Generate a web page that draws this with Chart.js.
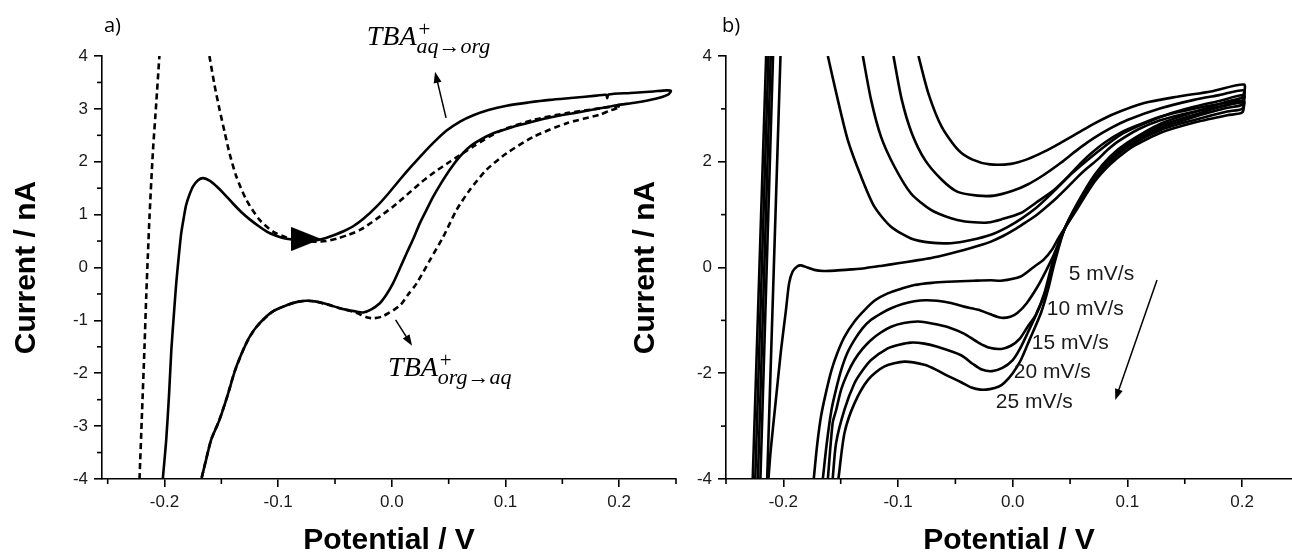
<!DOCTYPE html>
<html><head><meta charset="utf-8">
<script src="https://cdn.jsdelivr.net/npm/chart.js@4.4.1/dist/chart.umd.min.js"></script>
<style>
html,body{margin:0;padding:0;background:#fff;width:1292px;height:554px;overflow:hidden;position:relative}
#wa{position:absolute;left:0;top:0;width:680px;height:560px}
#wb{position:absolute;left:620px;top:0;width:672px;height:560px}
.lab{position:absolute;font-family:"Open Sans",sans-serif;font-size:20px;line-height:20px;color:#000}
</style></head><body>
<div id="wa"><canvas id="ca" width="680" height="560"></canvas></div>
<div id="wb"><canvas id="cb" width="672" height="560"></canvas></div>
<div class="lab" style="left:104px;top:15px">a)</div>
<div class="lab" style="left:722px;top:15px">b)</div>
<script>
// ---------- tick labels ----------
const xMajor = [-0.2, -0.1, 0.0, 0.1, 0.2];
const xMinor = [-0.25, -0.15, -0.05, 0.05, 0.15, 0.25];
const yMajorA = [-4, -3, -2, -1, 0, 1, 2, 3, 4];
const yMinorA = [-3.5, -2.5, -1.5, -0.5, 0.5, 1.5, 2.5, 3.5];
const yMajorB = [-4, -2, 0, 2, 4];
const yMinorB = [-3, -1, 1, 3];

// ---------- panel a data [potential V, current nA] ----------
const aSolid = [[-0.2015,-4],[-0.1985,-3.26],[-0.196,-2.4],[-0.194,-1.56],[-0.1918,-0.9],[-0.1897,-0.30],[-0.1875,0.2],[-0.1853,0.65],[-0.183,0.95],[-0.181,1.18],[-0.178,1.38],[-0.175,1.53],[-0.1705,1.65],[-0.166,1.69],[-0.160,1.64],[-0.1545,1.54],[-0.147,1.38],[-0.140,1.215],[-0.1325,1.05],[-0.125,0.91],[-0.117,0.78],[-0.110,0.68],[-0.103,0.61],[-0.0958,0.56],[-0.088,0.53],[-0.080,0.51],[-0.072,0.505],[-0.065,0.52],[-0.058,0.56],[-0.050,0.62],[-0.042,0.69],[-0.034,0.78],[-0.025,0.92],[-0.0135,1.15],[-0.003,1.40],[0.007,1.66],[0.0175,1.92],[0.0276,2.16],[0.038,2.39],[0.0482,2.59],[0.060,2.76],[0.0717,2.88],[0.085,2.98],[0.101,3.06],[0.120,3.12],[0.139,3.17],[0.160,3.21],[0.180,3.25],[0.1885,3.265],[0.1895,3.20],[0.1905,3.27],[0.210,3.30],[0.230,3.33],[0.2415,3.35],[0.2455,3.34],[0.243,3.27],[0.232,3.19],[0.215,3.12],[0.198,3.07],[0.183,3.01],[0.160,2.92],[0.140,2.84],[0.1245,2.76],[0.105,2.65],[0.0893,2.54],[0.078,2.42],[0.0687,2.29],[0.060,2.10],[0.051,1.85],[0.0435,1.6],[0.0364,1.34],[0.0305,1.09],[0.0247,0.84],[0.019,0.55],[0.013,0.27],[0.007,-0.02],[0.001,-0.30],[-0.005,-0.52],[-0.0106,-0.675],[-0.018,-0.79],[-0.0253,-0.85],[-0.032,-0.83],[-0.0458,-0.77],[-0.056,-0.70],[-0.0663,-0.645],[-0.075,-0.63],[-0.083,-0.65],[-0.092,-0.71],[-0.1046,-0.83],[-0.112,-0.96],[-0.119,-1.12],[-0.124,-1.27],[-0.128,-1.43],[-0.133,-1.67],[-0.138,-1.95],[-0.145,-2.45],[-0.152,-2.9],[-0.159,-3.26],[-0.163,-3.6],[-0.167,-3.95],[-0.1675,-4]];
const aDashLeft = [[-0.222,-4],[-0.2198,-2.75],[-0.2176,-1.5],[-0.2161,-0.55],[-0.2147,0.2],[-0.2132,0.96],[-0.2103,2.16],[-0.2073,3.1],[-0.2045,4]];
const aDash = [[-0.1605,4],[-0.156,3.45],[-0.1515,2.98],[-0.147,2.55],[-0.1427,2.15],[-0.1368,1.72],[-0.128,1.28],[-0.1163,0.90],[-0.1046,0.68],[-0.0928,0.57],[-0.083,0.52],[-0.075,0.50],[-0.066,0.49],[-0.0576,0.50],[-0.048,0.55],[-0.038,0.62],[-0.028,0.71],[-0.014,0.91],[0.001,1.15],[0.013,1.37],[0.0247,1.59],[0.038,1.81],[0.051,2.0],[0.0717,2.29],[0.095,2.58],[0.1245,2.79],[0.154,2.92],[0.183,3.01],[0.198,3.05],[0.201,3.03],[0.192,2.97],[0.183,2.89],[0.154,2.73],[0.1245,2.47],[0.101,2.16],[0.0834,1.85],[0.0687,1.47],[0.057,1.09],[0.0452,0.58],[0.0335,0.14],[0.0218,-0.30],[0.014,-0.52],[0.007,-0.72],[-0.0077,-0.92],[-0.016,-0.96],[-0.0223,-0.94],[-0.032,-0.85],[-0.0458,-0.77],[-0.0663,-0.645],[-0.075,-0.63],[-0.083,-0.65],[-0.092,-0.71],[-0.1046,-0.83],[-0.119,-1.12],[-0.128,-1.43],[-0.138,-1.95],[-0.145,-2.45],[-0.152,-2.9],[-0.159,-3.26],[-0.167,-3.95],[-0.1675,-4]];
const aScanMarker = [[-0.0752, 0.54]];

// ---------- panel b data (scan rates) ----------
const rates = ['5 mV/s','10 mV/s','15 mV/s','20 mV/s','25 mV/s'];
const b5Steep = [[-0.2141,-4],[-0.2025,4]];
const b10Steep = [[-0.2200,-4],[-0.2090,4]];
const b15Steep = [[-0.2222,-4],[-0.2110,4]];
const b20Steep = [[-0.2245,-4],[-0.2130,4]];
const b25Steep = [[-0.2267,-4],[-0.2150,4]];
const b5 = [[-0.213,-4],[-0.211,-3.45],[-0.2065,-2.5],[-0.202,-1.56],[-0.1977,-0.80],[-0.195,-0.30],[-0.192,-0.08],[-0.188,0.02],[-0.1846,0.04],[-0.179,0.0],[-0.173,-0.045],[-0.165,-0.065],[-0.155,-0.06],[-0.14,-0.035],[-0.129,-0.013],[-0.115,0.03],[-0.100,0.08],[-0.085,0.13],[-0.071,0.18],[-0.055,0.26],[-0.0425,0.33],[-0.03,0.41],[-0.019,0.49],[-0.008,0.6],[0.0018,0.72],[0.011,0.85],[0.020,0.98],[0.029,1.14],[0.038,1.31],[0.047,1.50],[0.056,1.70],[0.065,1.88],[0.0744,2.05],[0.083,2.23],[0.0923,2.39],[0.110,2.62],[0.128,2.78],[0.1465,2.89],[0.165,2.98],[0.183,3.05],[0.2009,3.12],
 [0.2,2.93],[0.187,2.88],[0.16,2.75],[0.129,2.55],[0.11,2.35],[0.1,2.22],[0.085,1.95],[0.0713,1.62],[0.0565,1.12],[0.047,0.80],[0.040,0.56],[0.034,0.33],[0.027,0.15],[0.019,0.02],[0.007,-0.17],[-0.0103,-0.25],[-0.019,-0.24],[-0.034,-0.25],[-0.0567,-0.27],[-0.0706,-0.29],[-0.0857,-0.33],[-0.097,-0.40],[-0.109,-0.49],[-0.12,-0.62],[-0.129,-0.80],[-0.138,-1.02],[-0.1467,-1.31],[-0.153,-1.62],[-0.158,-1.94],[-0.163,-2.38],[-0.1672,-2.82],[-0.1705,-3.35],[-0.1735,-4]];
const b10 = [[-0.1612,4],[-0.1525,3.17],[-0.1438,2.41],[-0.1322,1.72],[-0.1206,1.15],[-0.1061,0.77],[-0.0887,0.55],[-0.0713,0.47],[-0.0538,0.46],[-0.0364,0.52],[-0.019,0.62],[-0.005,0.76],[0.008,0.93],[0.02,1.12],[0.032,1.36],[0.044,1.62],[0.056,1.9],[0.068,2.15],[0.08,2.36],[0.095,2.56],[0.11,2.7],[0.13,2.86],[0.16,3.01],[0.183,3.1],[0.2017,3.15],
 [0.2,3.0],[0.187,2.95],[0.16,2.8],[0.129,2.6],[0.1,2.27],[0.085,2.0],[0.0713,1.66],[0.0565,1.15],[0.045,0.72],[0.036,0.25],[0.03,-0.02],[0.0217,-0.36],[0.012,-0.68],[0.004,-0.86],[-0.002,-0.93],[-0.01,-0.95],[-0.02,-0.88],[-0.03,-0.8],[-0.0425,-0.74],[-0.054,-0.67],[-0.0657,-0.63],[-0.076,-0.62],[-0.0857,-0.64],[-0.096,-0.69],[-0.106,-0.77],[-0.115,-0.87],[-0.1235,-0.99],[-0.131,-1.15],[-0.138,-1.37],[-0.1445,-1.63],[-0.1496,-1.94],[-0.154,-2.3],[-0.158,-2.69],[-0.162,-3.3],[-0.1656,-4]];
const b15 = [[-0.1307,4],[-0.1235,3.17],[-0.1148,2.47],[-0.1032,1.91],[-0.0887,1.40],[-0.0713,1.09],[-0.0538,0.93],[-0.0416,0.87],[-0.03,0.85],[-0.0219,0.85],[-0.01,0.91],[0.0071,1.03],[0.02,1.22],[0.0362,1.47],[0.05,1.75],[0.065,2.03],[0.08,2.29],[0.094,2.51],[0.11,2.68],[0.1233,2.8],[0.14,2.93],[0.158,3.04],[0.18,3.15],[0.2017,3.26],
 [0.2,3.08],[0.187,3.02],[0.16,2.86],[0.129,2.64],[0.1,2.3],[0.085,2.04],[0.0713,1.7],[0.0565,1.18],[0.045,0.72],[0.036,0.2],[0.0275,-0.49],[0.02,-0.9],[0.013,-1.12],[0.006,-1.35],[-0.0016,-1.48],[-0.01,-1.54],[-0.02,-1.52],[-0.03,-1.42],[-0.0425,-1.25],[-0.055,-1.14],[-0.0657,-1.08],[-0.075,-1.04],[-0.083,-1.02],[-0.095,-1.05],[-0.106,-1.12],[-0.115,-1.23],[-0.1235,-1.37],[-0.131,-1.54],[-0.138,-1.75],[-0.144,-2.0],[-0.1496,-2.31],[-0.154,-2.7],[-0.157,-2.94],[-0.1612,-4]];
const b20 = [[-0.104,4],[-0.0967,3.17],[-0.088,2.54],[-0.0764,2.03],[-0.0619,1.66],[-0.048,1.43],[-0.0307,1.36],[-0.016,1.36],[0.0,1.45],[0.013,1.57],[0.027,1.75],[0.042,1.98],[0.056,2.22],[0.071,2.45],[0.085,2.63],[0.1,2.79],[0.129,3.01],[0.158,3.17],[0.18,3.26],[0.2017,3.35],
 [0.2,3.15],[0.187,3.08],[0.16,2.9],[0.129,2.68],[0.1,2.33],[0.085,2.07],[0.0713,1.72],[0.0565,1.2],[0.045,0.72],[0.036,0.15],[0.0304,-0.36],[0.022,-0.82],[0.013,-1.24],[0.006,-1.55],[0.0,-1.75],[-0.009,-1.9],[-0.018,-1.96],[-0.027,-1.93],[-0.035,-1.82],[-0.045,-1.66],[-0.0657,-1.50],[-0.077,-1.44],[-0.0887,-1.42],[-0.099,-1.46],[-0.109,-1.53],[-0.1235,-1.75],[-0.131,-1.95],[-0.138,-2.19],[-0.1467,-2.69],[-0.154,-3.32],[-0.157,-4]];
const b25 = [[-0.0822,4],[-0.0735,3.29],[-0.0619,2.66],[-0.0474,2.22],[-0.035,2.04],[-0.0199,1.95],[-0.0016,1.96],[0.013,2.05],[0.0275,2.19],[0.042,2.36],[0.0565,2.54],[0.071,2.72],[0.0855,2.88],[0.1146,3.11],[0.1436,3.23],[0.1727,3.33],[0.2017,3.46],
 [0.2,3.22],[0.187,3.14],[0.16,2.95],[0.129,2.72],[0.1,2.36],[0.085,2.1],[0.0713,1.75],[0.0565,1.22],[0.045,0.72],[0.036,0.05],[0.031,-0.4],[0.0246,-0.86],[0.015,-1.35],[0.0071,-1.75],[0.0,-2.0],[-0.0073,-2.18],[-0.012,-2.25],[-0.02,-2.3],[-0.028,-2.31],[-0.036,-2.27],[-0.045,-2.17],[-0.0567,-2.05],[-0.067,-1.93],[-0.077,-1.84],[-0.0944,-1.78],[-0.1118,-1.87],[-0.126,-2.12],[-0.138,-2.57],[-0.1467,-3.13],[-0.152,-4]];

// ---------- annotations (data coordinates) ----------
const aArrows = [[0.0477, 2.83, 0.038, 3.70], [0.0033, -0.99, 0.0178, -1.48]];
const aLabels = [{x:-0.0221, y:4.21, main:'TBA', sup:'+', sub:'aq\u2192org'}, {x:-0.0033, y:-2.05, main:'TBA', sup:'+', sub:'org\u2192aq'}];
const bArrows = [[0.1258, -0.236, 0.0894, -2.506]];
const bRateLabelPos = [[0.0489,-0.236],[0.0297,-0.898],[0.0166,-1.541],[0.0009,-2.09],[-0.0148,-2.657]];

// ---------- helpers ----------
const xy = arr => arr.map(p => ({x: p[0], y: p[1]}));
const tickFont = {family: '"Liberation Sans", Arial, sans-serif', size: 17};
const titleFont = {family: '"Liberation Sans", Arial, sans-serif', size: 30, weight: 'bold'};

function line(data, dashed) {
  return {data: xy(data), showLine: true, borderColor: '#000', backgroundColor: '#000', borderWidth: 2.6,
          borderDash: dashed ? [6, 4] : [], pointRadius: 0, tension: 0.25, fill: false};
}

const triImg = document.createElement('canvas');
triImg.width = 30; triImg.height = 24;
(function(){ const c = triImg.getContext('2d'); c.fillStyle = '#000'; c.beginPath(); c.moveTo(0,0); c.lineTo(30,12); c.lineTo(0,24); c.closePath(); c.fill(); })();

const minorTicks = {
  id: 'minorTicks',
  afterDraw(chart, args, o) {
    const ctx = chart.ctx, xs = chart.scales.x, ys = chart.scales.y;
    ctx.save(); ctx.strokeStyle = '#000'; ctx.lineWidth = 1.6;
    o.x.forEach(v => { if (v < xs.min || v > xs.max) return; const p = xs.getPixelForValue(v); ctx.beginPath(); ctx.moveTo(p, xs.top); ctx.lineTo(p, xs.top + 5); ctx.stroke(); });
    o.y.forEach(v => { const p = ys.getPixelForValue(v); ctx.beginPath(); ctx.moveTo(ys.right, p); ctx.lineTo(ys.right - 5, p); ctx.stroke(); });
    ctx.restore();
  }
};

function arrow(ctx, x0, y0, x1, y1) {
  const ang = Math.atan2(y1 - y0, x1 - x0), L = 11, W = 4;
  ctx.beginPath(); ctx.moveTo(x0, y0); ctx.lineTo(x1 - Math.cos(ang) * L * 0.8, y1 - Math.sin(ang) * L * 0.8); ctx.stroke();
  ctx.beginPath(); ctx.moveTo(x1, y1);
  ctx.lineTo(x1 - Math.cos(ang) * L - Math.sin(ang) * W, y1 - Math.sin(ang) * L + Math.cos(ang) * W);
  ctx.lineTo(x1 - Math.cos(ang) * L + Math.sin(ang) * W, y1 - Math.sin(ang) * L - Math.cos(ang) * W);
  ctx.closePath(); ctx.fill();
}

const notes = {
  id: 'notes',
  afterDraw(chart, args, o) {
    const ctx = chart.ctx, xs = chart.scales.x, ys = chart.scales.y;
    ctx.save(); ctx.strokeStyle = '#000'; ctx.fillStyle = '#000'; ctx.lineWidth = 1.5;
    (o.arrows || []).forEach(a => arrow(ctx, xs.getPixelForValue(a[0]), ys.getPixelForValue(a[1]), xs.getPixelForValue(a[2]), ys.getPixelForValue(a[3])));
    ctx.textBaseline = 'alphabetic'; ctx.textAlign = 'left';
    (o.math || []).forEach(t => {
      const px = xs.getPixelForValue(t.x), py = ys.getPixelForValue(t.y);
      ctx.font = 'italic 28px "Liberation Serif", serif';
      ctx.fillText(t.main, px, py);
      const w = ctx.measureText(t.main).width;
      ctx.font = '21px "Liberation Serif", serif';
      ctx.fillText(t.sup, px + w + 2, py - 9);
      ctx.font = 'italic 22px "Liberation Serif", serif';
      ctx.fillText(t.sub, px + w, py + 8);
    });
    ctx.fillStyle = '#1a1a1a';
    ctx.font = '21px "Liberation Sans", Arial, sans-serif';
    (o.texts || []).forEach((t, i) => ctx.fillText(t, xs.getPixelForValue(o.textPos[i][0]), ys.getPixelForValue(o.textPos[i][1])));
    ctx.restore();
  }
};

function options(xmin, xmax, yMajor, yMinor, yWidth, padRight, yTitlePad, pluginNotes) {
  return {
    responsive: false, animation: false, events: [],
    layout: {autoPadding: false, padding: {top: 56, right: padRight, left: 0, bottom: 0}},
    plugins: {legend: {display: false}, tooltip: {enabled: false},
              minorTicks: {x: xMinor, y: yMinor}, notes: pluginNotes},
    scales: {
      x: {type: 'linear', min: xmin, max: xmax,
          afterBuildTicks: s => { s.ticks = xMajor.map(v => ({value: v})); },
          afterFit: s => { s.height = 81; s.paddingLeft = 0; s.paddingRight = 0; },
          ticks: {callback: v => Number(v).toFixed(1), font: tickFont, color: '#1a1a1a', padding: 5, maxRotation: 0, autoSkip: false},
          grid: {display: true, drawOnChartArea: false, drawTicks: true, tickLength: 8, color: '#000', lineWidth: 1.6},
          border: {display: true, color: '#000', width: 1.6},
          title: {display: true, text: 'Potential / V', font: titleFont, color: '#000', padding: {top: 0, bottom: 1}}},
      y: {type: 'linear', min: -4, max: 4,
          afterBuildTicks: s => { s.ticks = yMajor.map(v => ({value: v})); },
          afterFit: s => { s.width = yWidth; s.paddingTop = 0; s.paddingBottom = 0; },
          ticks: {callback: v => String(v), font: tickFont, color: '#1a1a1a', padding: 6, autoSkip: false},
          grid: {display: true, drawOnChartArea: false, drawTicks: true, tickLength: 8, color: '#000', lineWidth: 1.6},
          border: {display: true, color: '#000', width: 1.6},
          title: {display: true, text: 'Current / nA', font: titleFont, color: '#000', padding: {top: yTitlePad, bottom: 0}}}
    }
  };
}

new Chart(document.getElementById('ca'), {
  type: 'scatter',
  data: {datasets: [
    line(aSolid, false), line(aDashLeft, true), line(aDash, true),
    {data: xy(aScanMarker), showLine: false, pointStyle: triImg, pointRadius: 12, borderWidth: 0}
  ]},
  options: options(-0.255, 0.25, yMajorA, yMinorA, 102, 4, 9, {arrows: aArrows, math: aLabels}),
  plugins: [minorTicks, notes]
});

new Chart(document.getElementById('cb'), {
  type: 'scatter',
  data: {datasets: [
    line(b5Steep), line(b10Steep), line(b15Steep), line(b20Steep), line(b25Steep),
    line(b5), line(b10), line(b15), line(b20), line(b25)
  ]},
  options: options(-0.25, 0.2435, yMajorB, yMinorB, 106, 0, 8, {arrows: bArrows, texts: rates, textPos: bRateLabelPos}),
  plugins: [minorTicks, notes]
});
</script>
</body></html>
